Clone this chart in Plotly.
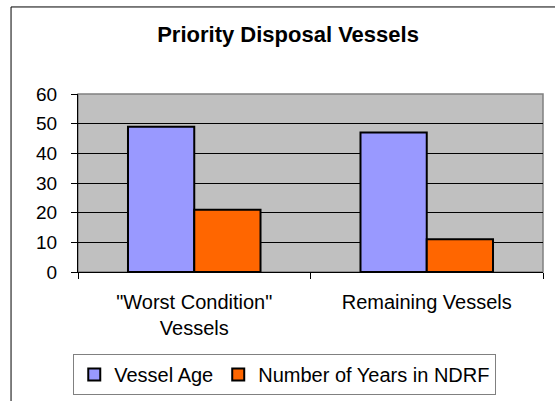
import plotly.graph_objects as go

categories = ['"Worst Condition"<br>Vessels', "Remaining Vessels"]
vessel_age = [49, 47]
years_in_ndrf = [21, 11]

fig = go.Figure()

fig.add_trace(go.Bar(
    x=categories, y=vessel_age,
    name="Vessel Age",
    marker=dict(color="#9999FF", line=dict(color="black", width=2)),
))
fig.add_trace(go.Bar(
    x=categories, y=years_in_ndrf,
    name="Number of Years in NDRF",
    marker=dict(color="#FF6600", line=dict(color="black", width=2)),
))

font = "Liberation Sans, Arial, sans-serif"

fig.update_layout(
    width=555, height=401,
    margin=dict(l=78, r=12, t=94, b=129, autoexpand=False),
    paper_bgcolor="white",
    plot_bgcolor="#C0C0C0",
    font=dict(family=font, size=19, color="black"),
    title=dict(text="<b>Priority Disposal Vessels</b>", x=0.519, xanchor="center",
               y=0.915, yanchor="middle", font=dict(size=22, family=font)),
    barmode="group",
    bargap=0.43,
    bargroupgap=0,
    showlegend=True,
    legend=dict(orientation="h", xref="container", yref="container",
                x=0.132, xanchor="left", y=0.117, yanchor="top",
                bordercolor="#808080", borderwidth=1, bgcolor="white",
                font=dict(size=20), itemwidth=30, traceorder="normal"),
    xaxis=dict(showline=True, linecolor="black", linewidth=1, automargin=False,
               ticks="outside", tickson="boundaries", ticklen=6, tickcolor="black",
               ticklabelstandoff=12, tickfont=dict(size=20), showgrid=False),
    yaxis=dict(range=[0, 60], dtick=10, showline=True, linecolor="black", linewidth=1,
               automargin=False, ticks="outside", ticklen=6, tickcolor="black",
               ticklabelstandoff=10,
               showgrid=True, gridcolor="black", gridwidth=1, zeroline=False),
)

# plot area frame and outer chart border
fig.add_shape(type="rect", xref="paper", yref="paper", x0=0, y0=0, x1=1, y1=1,
              line=dict(color="#808080", width=1.5), layer="below")
fig.add_shape(type="rect", xref="paper", yref="paper", x0=-0.144, y0=-0.8, x1=1.04, y1=1.489,
              line=dict(color="black", width=1))

fig.write_html("out.html", config={"displayModeBar": False},
               post_script="document.body.style.margin='0';")
